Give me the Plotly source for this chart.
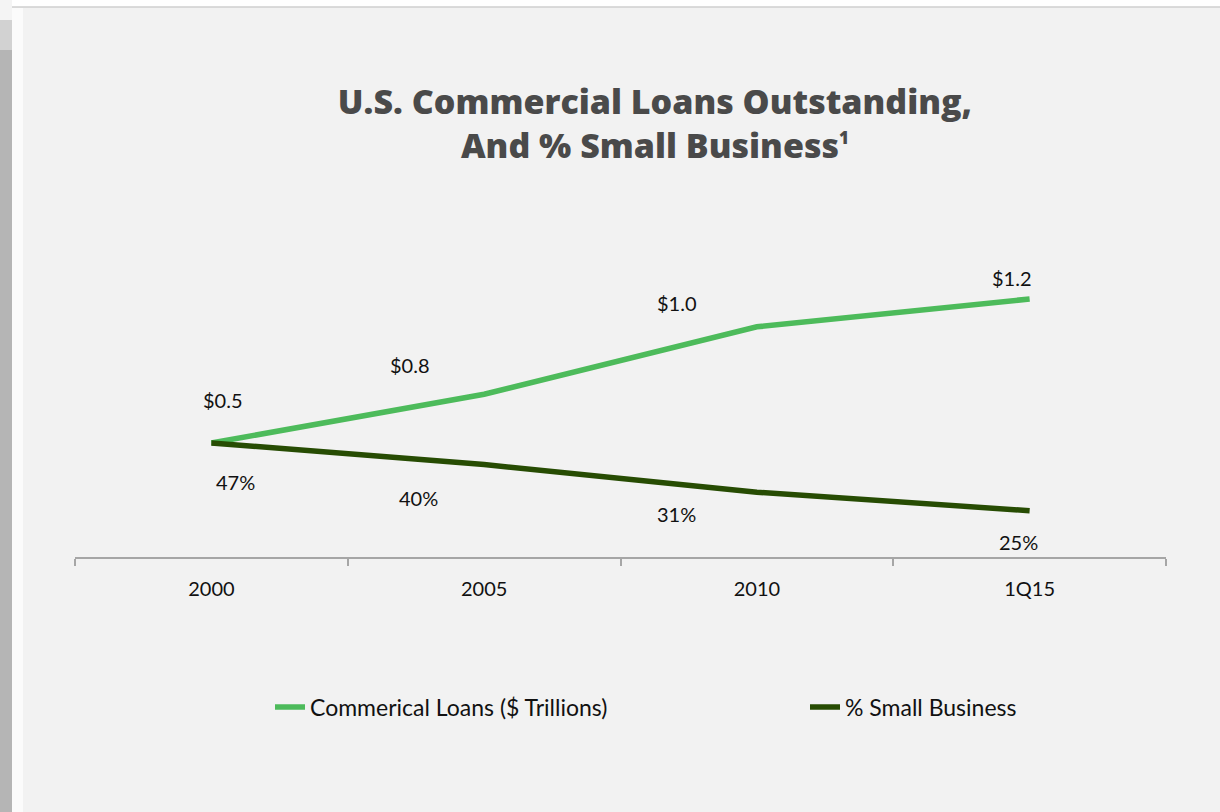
import plotly.graph_objects as go

# ---- data ----
periods = ["2000", "2005", "2010", "1Q15"]
loans_trillions = [0.54, 0.75, 1.04, 1.16]        # Commerical Loans ($ Trillions), estimated
loans_labels = ["$0.5", "$0.8", "$1.0", "$1.2"]
small_business_pct = [47, 40, 31, 25]              # % Small Business
small_business_labels = ["47%", "40%", "31%", "25%"]

# ---- styles ----
GREEN = "#4dbb5b"
DARK = "#274c03"
BG = "#f2f2f2"
FONT = "Lato"
TXT = "#111111"

W, H = 1220, 812
ML, MR, MT, MB = 75, 54, 250, 255
PW = W - ML - MR
PH = H - MT - MB

def px(x):
    return (x - ML) / PW

def py(y):
    return (H - MB - y) / PH

fig = go.Figure()
fig.add_trace(go.Scatter(
    x=periods, y=loans_trillions, mode="lines", name="Commerical Loans ($ Trillions)",
    line=dict(color=GREEN, width=5.5), yaxis="y", hoverinfo="skip", legend="legend"))
fig.add_trace(go.Scatter(
    x=periods, y=small_business_pct, mode="lines", name="% Small Business",
    line=dict(color=DARK, width=5.5), yaxis="y2", hoverinfo="skip", legend="legend2"))

# data labels (offsets are styling only)
loan_shifts = [(12, 43), (-74, 29), (-80, 24), (-18, 21)]
sb_shifts = [(24, -39), (-66, -33), (-80, -22), (-11, -31)]
annotations = []
for i, (v, t, (dx, dy)) in enumerate(zip(loans_trillions, loans_labels, loan_shifts)):
    annotations.append(dict(x=i, y=v, xref="x", yref="y", text=t, showarrow=False,
                            xshift=dx, yshift=dy, font=dict(family=FONT, size=20, color=TXT)))
for i, (v, t, (dx, dy)) in enumerate(zip(small_business_pct, small_business_labels, sb_shifts)):
    annotations.append(dict(x=i, y=v, xref="x", yref="y2", text=t, showarrow=False,
                            xshift=dx, yshift=dy, font=dict(family=FONT, size=20, color=TXT)))

# frame decorations
shapes = [
    dict(type="rect", xref="paper", yref="paper", x0=px(0), x1=px(12), y0=py(H), y1=py(50),
         fillcolor="#b5b5b5", line_width=0, layer="below"),
    dict(type="rect", xref="paper", yref="paper", x0=px(0), x1=px(12), y0=py(50), y1=py(20),
         fillcolor="#d2d2d2", line_width=0, layer="below"),
    dict(type="rect", xref="paper", yref="paper", x0=px(0), x1=px(12), y0=py(20), y1=py(0),
         fillcolor="#f4f4f4", line_width=0, layer="below"),
    dict(type="rect", xref="paper", yref="paper", x0=px(12), x1=px(23), y0=py(H), y1=py(8),
         fillcolor="#fbfbfb", line_width=0, layer="below"),
    dict(type="rect", xref="paper", yref="paper", x0=px(12), x1=px(W), y0=py(7), y1=py(0),
         fillcolor="#ffffff", line_width=0, layer="below"),
    dict(type="line", xref="paper", yref="paper", x0=px(12), x1=px(W), y0=py(7), y1=py(7),
         line=dict(color="#cfcfcf", width=1.5), layer="below"),
]

legend_common = dict(orientation="h", xanchor="left", yanchor="middle",
                     bgcolor="rgba(0,0,0,0)", font=dict(family=FONT, size=23, color=TXT),
                     itemwidth=30, borderwidth=0)

fig.update_layout(
    width=W, height=H,
    margin=dict(l=ML, r=MR, t=MT, b=MB, pad=0),
    paper_bgcolor=BG, plot_bgcolor=BG,
    font=dict(family=FONT, color=TXT),
    title=dict(
        text="U.S. Commercial Loans Outstanding,<br>And % Small Business"
             "<sup><span style='font-size:17px'>1</span></sup>",
        x=px(655), xref="paper", xanchor="center",
        y=1 - 114 / H, yref="container", yanchor="top",
        font=dict(family="Open Sans", size=34, color="#4a4a4a", weight=800)),
    xaxis=dict(
        type="category", range=[-0.5, 3.5], showgrid=False, zeroline=False,
        showline=True, linecolor="#a6a6a6", linewidth=1.5,
        ticks="outside", tickson="boundaries", ticklen=7, tickcolor="#a6a6a6", tickwidth=1.5,
        tickfont=dict(family=FONT, size=20, color=TXT), ticklabelstandoff=13),
    yaxis=dict(range=[0.0492, 1.3708], visible=False, showgrid=False, zeroline=False),
    yaxis2=dict(range=[9.95, 109.72], overlaying="y", side="right", visible=False,
                showgrid=False, zeroline=False),
    showlegend=True,
    legend=dict(x=px(270), y=py(707), **legend_common),
    legend2=dict(x=px(805), y=py(707), **legend_common),
    annotations=annotations,
    shapes=shapes,
)

fig.write_html("out.html", config={"displayModeBar": False},
               post_script="document.body.style.margin='0';")
